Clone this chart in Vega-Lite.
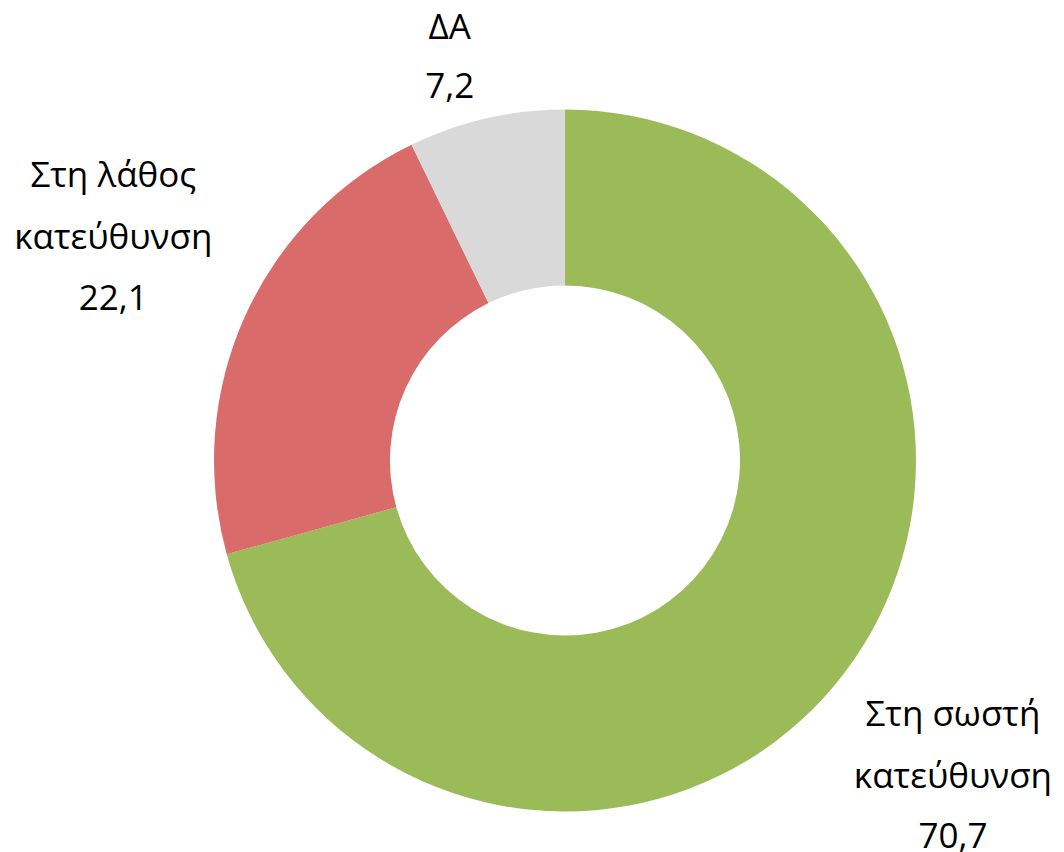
{
  "$schema": "https://vega.github.io/schema/vega-lite/v6.json",
  "width": 998,
  "height": 783,
  "autosize": "none",
  "padding": {"left": 66, "top": 69, "right": 0, "bottom": 0},
  "background": "white",
  "config": {
    "view": {"stroke": null},
    "locale": {"number": {"decimal": ",", "thousands": ".", "grouping": [3], "currency": ["", " €"]}},
    "text": {"font": "Open Sans", "fontSize": 35, "color": "#000000"}
  },
  "data": {
    "values": [
      {"cat": "Στη σωστή\nκατεύθυνση", "value": 70.7},
      {"cat": "Στη λάθος\nκατεύθυνση", "value": 22.1},
      {"cat": "ΔΑ", "value": 7.2}
    ]
  },
  "encoding": {
    "theta": {"field": "value", "type": "quantitative", "stack": true},
    "order": {"field": "value", "type": "quantitative", "sort": "descending"}
  },
  "layer": [
    {
      "mark": {"type": "arc", "outerRadius": 351, "innerRadius": 175},
      "encoding": {
        "color": {
          "field": "cat",
          "type": "nominal",
          "scale": {
            "domain": ["Στη σωστή\nκατεύθυνση", "Στη λάθος\nκατεύθυνση", "ΔΑ"],
            "range": ["#9BBB59", "#DA6B6B", "#D9D9D9"]
          },
          "legend": null
        }
      }
    },
    {
      "mark": {"type": "text", "radius": 500, "lineBreak": "\n", "lineHeight": 62, "baseline": "alphabetic", "align": "center", "dx": -10, "dy": -37},
      "encoding": {
        "text": {"field": "cat", "type": "nominal"},
        "opacity": {"condition": {"test": "indexof(datum.cat, 'σωστή') >= 0", "value": 1}, "value": 0}
      }
    },
    {
      "mark": {"type": "text", "radius": 500, "baseline": "alphabetic", "align": "center", "dx": -10, "dy": 85},
      "encoding": {
        "text": {"field": "value", "type": "quantitative", "format": ".1f"},
        "opacity": {"condition": {"test": "indexof(datum.cat, 'σωστή') >= 0", "value": 1}, "value": 0}
      }
    },
    {
      "mark": {"type": "text", "radius": 500, "lineBreak": "\n", "lineHeight": 62, "baseline": "alphabetic", "align": "center", "dx": 4, "dy": -68},
      "encoding": {
        "text": {"field": "cat", "type": "nominal"},
        "opacity": {"condition": {"test": "indexof(datum.cat, 'λάθος') >= 0", "value": 1}, "value": 0}
      }
    },
    {
      "mark": {"type": "text", "radius": 500, "baseline": "alphabetic", "align": "center", "dx": 4, "dy": 55},
      "encoding": {
        "text": {"field": "value", "type": "quantitative", "format": ".1f"},
        "opacity": {"condition": {"test": "indexof(datum.cat, 'λάθος') >= 0", "value": 1}, "value": 0}
      }
    },
    {
      "mark": {"type": "text", "radius": 420, "baseline": "alphabetic", "align": "center", "dx": -21, "dy": -12},
      "encoding": {
        "text": {"field": "cat", "type": "nominal"},
        "opacity": {"condition": {"test": "datum.cat === 'ΔΑ'", "value": 1}, "value": 0}
      }
    },
    {
      "mark": {"type": "text", "radius": 420, "baseline": "alphabetic", "align": "center", "dx": -21, "dy": 47},
      "encoding": {
        "text": {"field": "value", "type": "quantitative", "format": ".1f"},
        "opacity": {"condition": {"test": "datum.cat === 'ΔΑ'", "value": 1}, "value": 0}
      }
    }
  ]
}
